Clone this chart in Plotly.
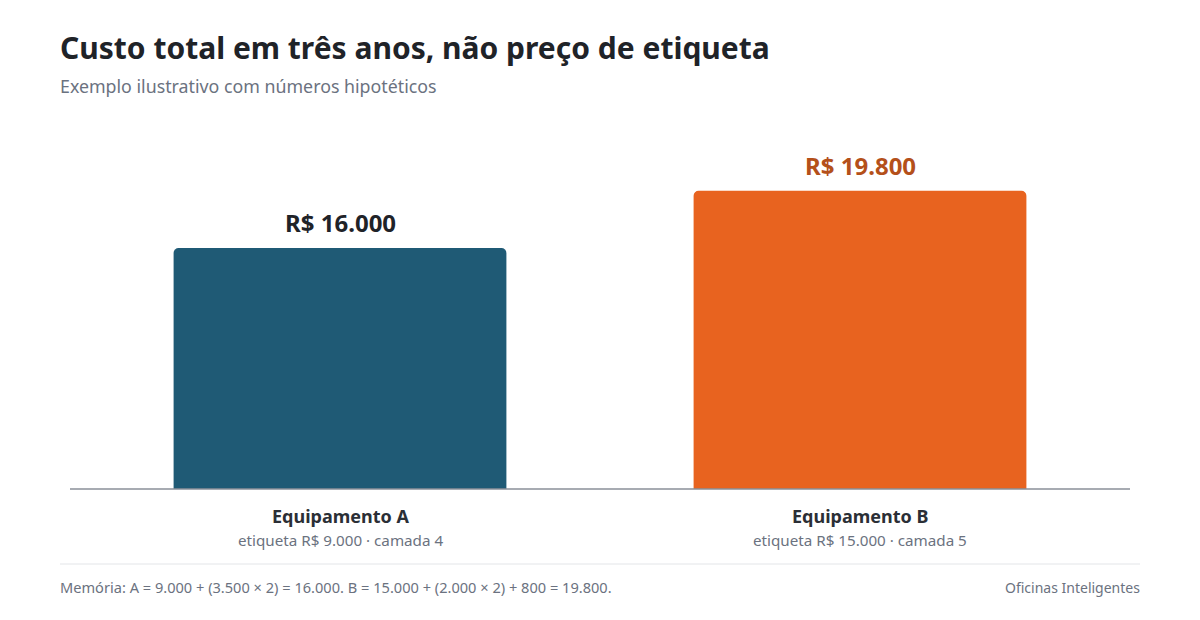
import plotly.graph_objects as go

categories = ["Equipamento A", "Equipamento B"]
totals = [16000, 19800]
value_labels = ["R$ 16.000", "R$ 19.800"]
sublabels = ["etiqueta R$ 9.000 · camada 4", "etiqueta R$ 15.000 · camada 5"]
bar_colors = ["#1f5a75", "#e8631f"]
label_colors = ["#1f2328", "#b4501a"]

FONT = "Noto Sans, Open Sans, sans-serif"
W, H = 1200, 620
# page body has an 8px margin, so the plot area is shifted up/left by 8px
ml, mr, mt, mb = 72, 88, 122, 139

fig = go.Figure()
fig.add_trace(go.Bar(
    x=categories,
    y=totals,
    marker=dict(color=bar_colors, cornerradius=5, line=dict(width=0)),
    width=0.64,
    hoverinfo="skip",
))

# value labels above bars
for cat, val, txt, col in zip(categories, totals, value_labels, label_colors):
    fig.add_annotation(x=cat, y=val, xref="x", yref="y", text="<b>%s</b>" % txt,
                       showarrow=False, yanchor="bottom", yshift=7,
                       font=dict(family=FONT, size=24, color=col))

# category labels below baseline
for cat, sub in zip(categories, sublabels):
    fig.add_annotation(x=cat, y=0, xref="x", yref="paper", text="<b>%s</b>" % cat,
                       showarrow=False, yanchor="middle", yshift=-27,
                       font=dict(family=FONT, size=18, color="#2b2f36"))
    fig.add_annotation(x=cat, y=0, xref="x", yref="paper", text=sub,
                       showarrow=False, yanchor="middle", yshift=-51,
                       font=dict(family=FONT, size=15.2, color="#6b7280"))

pw = W - ml - mr
ph = H - mt - mb
# baseline
fig.add_shape(type="line", xref="paper", yref="paper",
              x0=-10 / pw, x1=1 + 10 / pw, y0=0, y1=0,
              line=dict(color="#8a8f98", width=1.5))
# footer separator
fig.add_shape(type="line", xref="paper", yref="paper",
              x0=-20 / pw, x1=1 + 20 / pw, y0=-75 / ph, y1=-75 / ph,
              line=dict(color="#e3e5e8", width=1))

fig.add_annotation(x=-22 / pw, y=-98 / ph, xref="paper", yref="paper",
                   text="Memória: A = 9.000 + (3.500 × 2) = 16.000. B = 15.000 + (2.000 × 2) + 800 = 19.800.",
                   showarrow=False, xanchor="left", yanchor="middle",
                   font=dict(family=FONT, size=14.6, color="#6b7280"))
fig.add_annotation(x=1 + 22 / pw, y=-98 / ph, xref="paper", yref="paper",
                   text="Oficinas Inteligentes",
                   showarrow=False, xanchor="right", yanchor="middle",
                   font=dict(family=FONT, size=14, color="#6b7280"))

# title and subtitle
fig.add_annotation(x=-22 / pw, y=1 + 82 / ph, xref="paper", yref="paper",
                   text="<b>Custo total em três anos, não preço de etiqueta</b>",
                   showarrow=False, xanchor="left", yanchor="middle",
                   font=dict(family=FONT, size=30, color="#1f2328"))
fig.add_annotation(x=-22 / pw, y=1 + 44 / ph, xref="paper", yref="paper",
                   text="Exemplo ilustrativo com números hipotéticos",
                   showarrow=False, xanchor="left", yanchor="middle",
                   font=dict(family=FONT, size=17.8, color="#6b7280"))

fig.update_layout(
    width=W, height=H,
    margin=dict(l=ml, r=mr, t=mt, b=mb, pad=0),
    paper_bgcolor="white", plot_bgcolor="white",
    showlegend=False,
    xaxis=dict(showticklabels=False, showgrid=False, zeroline=False, showline=False,
               range=[-0.5, 1.5], fixedrange=True),
    yaxis=dict(visible=False, range=[0, 23830], fixedrange=True),
    font=dict(family=FONT),
)

fig.write_html("out.html", config={"displayModeBar": False})
